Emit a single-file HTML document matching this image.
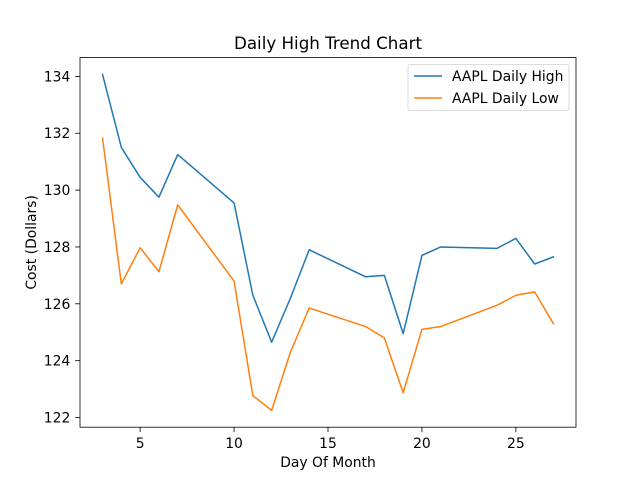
<!DOCTYPE html>
<html><head><meta charset="utf-8"><style>
body{margin:0;background:#fff;}
svg text{font-family:"DejaVu Sans","Liberation Sans",sans-serif;fill:#000;}
</style></head><body>
<svg id="chart" width="640" height="480" xmlns="http://www.w3.org/2000/svg"></svg>
<script>
const days=[3,4,5,6,7,10,11,12,13,14,17,18,19,20,21,24,25,26,27];
const highs=[134.07,131.5,130.45,129.75,131.25,129.55,126.3,124.65,126.2,127.9,126.95,127.0,124.95,127.7,128.0,127.95,128.3,127.4,127.65];
const lows=[131.83,126.7,127.97,127.13,129.48,126.8,122.77,122.25,124.3,125.85,125.2,124.8,122.87,125.1,125.2,125.95,126.3,126.42,125.3];
const xTicks=[5,10,15,20,25];
const yTicks=[122,124,126,128,130,132,134];
const L=80,R=576,T=57.6,B=427.2;
const all=highs.concat(lows);
const ymin=Math.min(...all),ymax=Math.max(...all),yr=ymax-ymin;
const y0=ymin-yr*0.05,y1=ymax+yr*0.05;
const xmn=Math.min(...days),xmx=Math.max(...days),xr=xmx-xmn;
const x0=xmn-xr*0.05,x1=xmx+xr*0.05;
const sx=v=>L+(v-x0)/(x1-x0)*(R-L);
const sy=v=>B-(v-y0)/(y1-y0)*(B-T);
const svg=document.getElementById('chart');
const NS='http://www.w3.org/2000/svg';
function mk(tag,attrs,parent){const e=document.createElementNS(NS,tag);for(const k in attrs)e.setAttribute(k,attrs[k]);(parent||svg).appendChild(e);return e;}
function txt(s,attrs){const e=mk('text',attrs);e.textContent=s;return e;}
function series(vals,color,name){
  const p=mk('polyline',{points:days.map((d,i)=>sx(d)+','+sy(vals[i])).join(' '),fill:'none',stroke:color,'stroke-width':1.5,'stroke-linejoin':'round','stroke-linecap':'square'});
  
  
}
series(highs,'#1f77b4','high-line');
series(lows,'#ff7f0e','low-line');
const frame=mk('rect',{x:L,y:T,width:R-L,height:B-T,fill:'none',stroke:'#000','stroke-width':0.8});


xTicks.forEach(t=>{
  const l=mk('line',{x1:sx(t),x2:sx(t),y1:B,y2:B+4.9,stroke:'#000','stroke-width':0.8});
  
  
  const e=txt(t,{x:sx(t),y:B+21,'font-size':13.9,'text-anchor':'middle'});
  
  
});
yTicks.forEach(t=>{
  const l=mk('line',{x1:L-4.9,x2:L,y1:sy(t),y2:sy(t),stroke:'#000','stroke-width':0.8});
  
  
  const e=txt(t,{x:L-9.7,y:sy(t)+5,'font-size':13.9,'text-anchor':'end'});
  
  
});
let e=txt('Daily High Trend Chart',{x:(L+R)/2,y:T-8.5,'font-size':16.7,'text-anchor':'middle'});

e=txt('Day Of Month',{x:(L+R)/2,y:467,'font-size':13.9,'text-anchor':'middle'});

e=txt('Cost (Dollars)',{x:0,y:0,'font-size':13.9,'text-anchor':'middle',transform:'translate(36,'+((T+B)/2)+') rotate(-90)'});

const lg=mk('g',{});

mk('rect',{x:408,y:64.5,width:161,height:46,rx:2,fill:'#fff',stroke:'#ccc','stroke-width':0.8,opacity:0.9},lg);
[['AAPL Daily High','#1f77b4',76],['AAPL Daily Low','#ff7f0e',98]].forEach(([n,c,y])=>{
  mk('line',{x1:414,x2:442,y1:y,y2:y,stroke:c,'stroke-width':1.5},lg);
  const t=mk('text',{x:452,y:y+5,'font-size':13.9},lg);t.textContent=n;
  
});
</script>
</body></html>
